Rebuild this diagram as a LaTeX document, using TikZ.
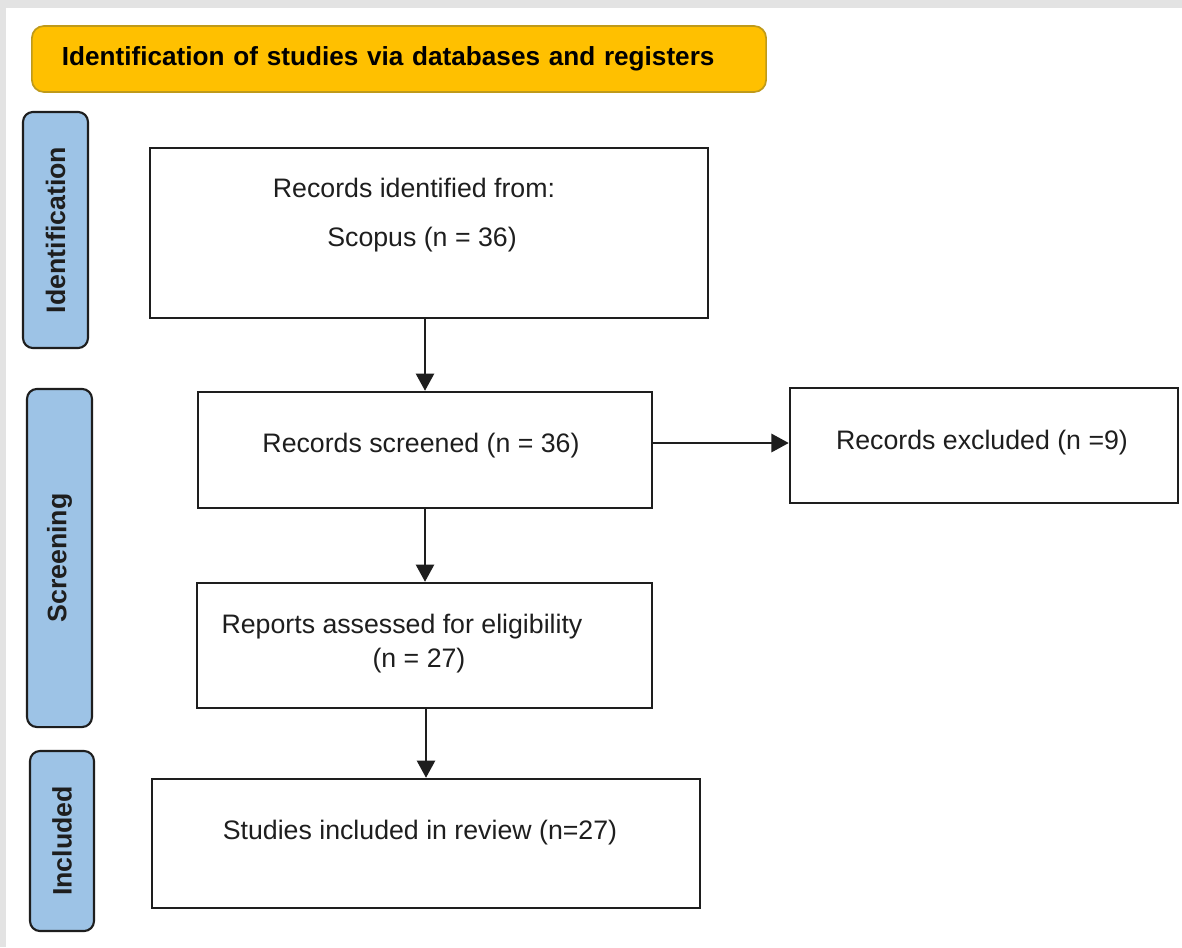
\documentclass[tikz,border=0pt]{standalone}
\usepackage{fontspec}
\setmainfont{Liberation Sans}
\usetikzlibrary{arrows.meta}

\definecolor{bannerfill}{HTML}{FFC000}
\definecolor{bannerline}{HTML}{BF9A1A}
\definecolor{stagefill}{HTML}{9DC3E6}
\definecolor{framegray}{HTML}{E3E3E3}
\definecolor{inkgray}{HTML}{1E1E1E}

\begin{document}
\begin{tikzpicture}[x=0.025cm, y=-0.025cm,
    every node/.style={font=\fontsize{19}{23}\selectfont, text=inkgray, inner sep=0pt},
    flowbox/.style={draw=inkgray, line width=1.8pt, fill=white},
    stagebox/.style={draw=inkgray, line width=1.5pt, fill=stagefill, rounded corners=0.25cm,
      rotate=90, minimum height=1.625cm, font=\fontsize{19}{23}\selectfont\bfseries},
    banner/.style={draw=bannerline, line width=1.2pt, fill=bannerfill, rounded corners=0.3cm,
      minimum width=18.35cm, minimum height=1.65cm, text width=16.85cm, align=left,
      inner xsep=0.75cm, font=\fontsize{18.6}{22}\selectfont\bfseries, text=black},
    flowarrow/.style={draw=inkgray, line width=1.1pt, -{Triangle[length=0.43cm, width=0.46cm]}}]

  \useasboundingbox (0,0) rectangle (1182,947);
  \fill[framegray] (0,0) rectangle (1182,947);
  \fill[white] (6,8) rectangle (1182,947);

  \node[banner] (title) at (399,59) {Identification of studies via databases and registers};

  % stage labels
  \node[stagebox, minimum width=5.9cm] (ident) at (55.5,230) {Identification};
  \node[stagebox, minimum width=8.45cm] (screen) at (59.5,558) {Screening};
  \node[stagebox, minimum width=4.5cm, minimum height=1.6cm] (incl) at (62,841) {Included};

  % boxes
  \node[flowbox, minimum width=13.95cm, minimum height=4.25cm] (box1) at (429,233) {};
  \node[flowbox, minimum width=11.35cm, minimum height=2.9cm] (box2) at (425,450) {};
  \node[flowbox, minimum width=9.7cm, minimum height=2.875cm] (excl) at (984,445.5) {};
  \node[flowbox, minimum width=11.375cm, minimum height=3.125cm] (box3) at (424.5,645.5) {};
  \node[flowbox, minimum width=13.7cm, minimum height=3.225cm] (box4) at (426,843.5) {};

  \node (t1a) at (414,188) {Records identified from:};
  \node (t1b) at (422,240) {Scopus (n = 36)};
  \node (t2) at (421,446) {Records screened (n = 36)};
  \node (tex) at (982,443) {Records excluded (n =9)};
  \node (t3a) at (402,627) {Reports assessed for eligibility};
  \node (t3b) at (419,661) {(n = 27)};
  \node (t4) at (420,833) {Studies included in review (n=27)};

  \draw[flowarrow] (box1.south -| box2.north) -- (box2.north);
  \draw[flowarrow] (box2.east |- tex) -- (tex -| excl.west);
  \draw[flowarrow] (box2.south) -- (box3.north -| box2.south);
  \draw[flowarrow] (box3.south -| box4.north) -- (box4.north);
\end{tikzpicture}
\end{document}
